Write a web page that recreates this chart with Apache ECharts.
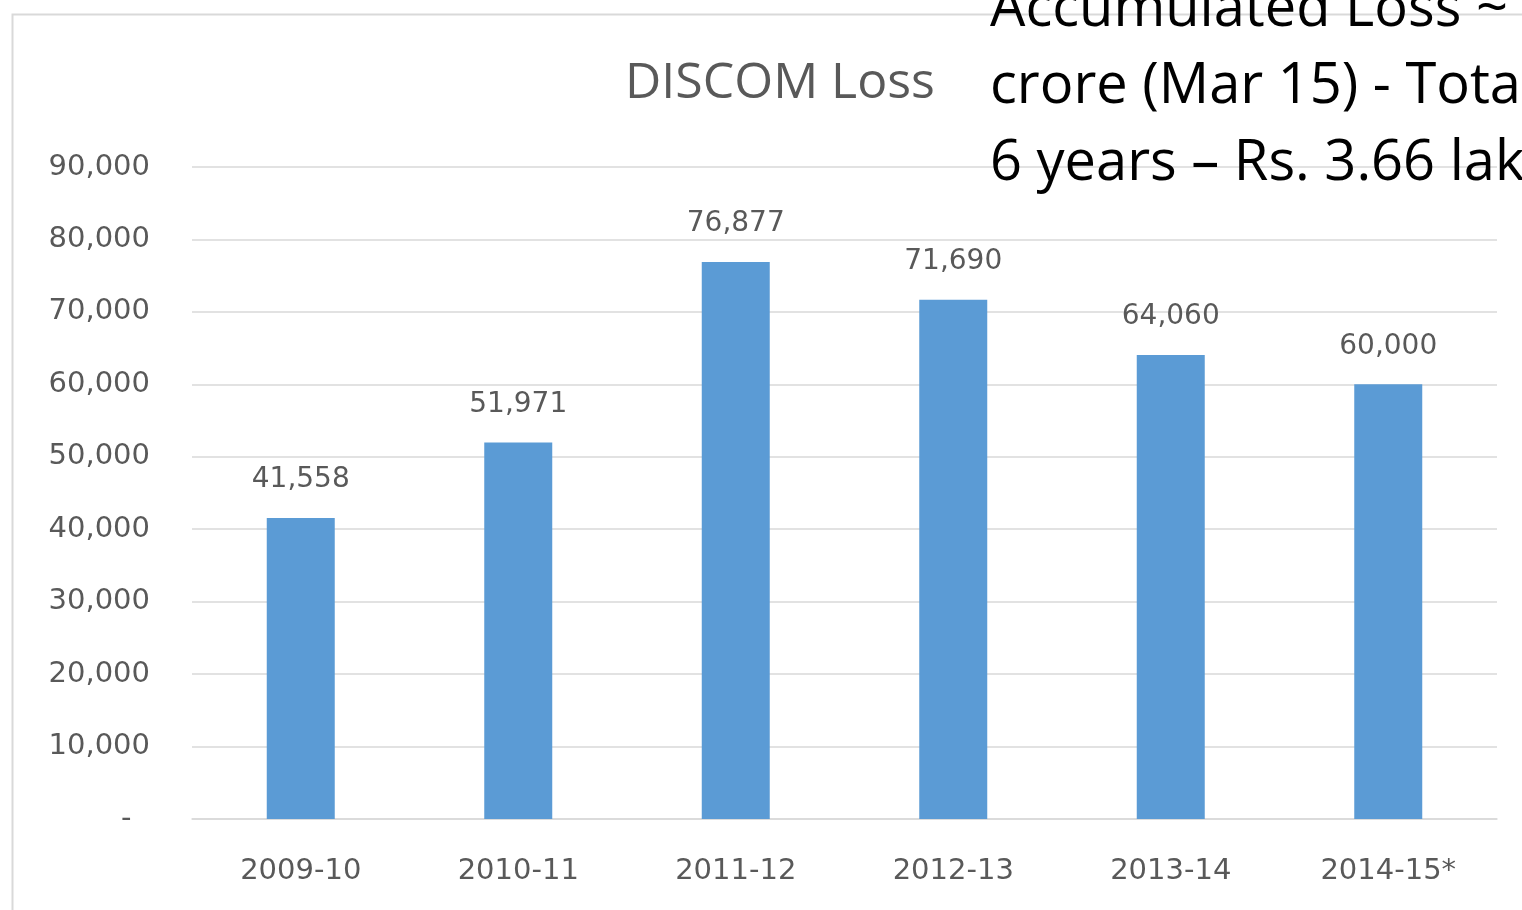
<!DOCTYPE html>
<html>
<head>
<meta charset="utf-8">
<script src="https://cdn.jsdelivr.net/npm/echarts@6/dist/echarts.min.js"></script>
<style>
  html, body { margin: 0; padding: 0; background: #fff; }
  #chart { width: 1522px; height: 910px; }
</style>
</head>
<body>
<div id="chart"></div>
<script>
// data
const years = ['2009-10', '2010-11', '2011-12', '2012-13', '2013-14', '2014-15*'];
const losses = [41558, 51971, 76877, 71690, 64060, 60000];
const noteLines = [
    'Accumulated Loss ~ Rs. 3.8 lakh',
    'crore (Mar 15) - Total loss in',
    '6 years \u2013 Rs. 3.66 lakh crore'
];

// excel style: zero shown as a dash
const fmt = (v) => v === 0 ? '-  ' : v.toLocaleString('en-US');

const mycharts = echarts.init(document.getElementById('chart'));
mycharts.setOption({
    animation: false,
    textStyle: { fontFamily: '"DejaVu Sans", sans-serif' },
    title: {
        text: 'DISCOM Loss',
        left: 775,
        top: 54,
        textAlign: 'center',
        textStyle: { fontSize: 50, fontWeight: 'normal', color: '#595959', fontFamily: '"Open Sans", sans-serif' }
    },
    grid: { left: 192, right: 25, top: 167, bottom: 91 },
    xAxis: {
        type: 'category',
        data: years,
        axisLine: { lineStyle: { color: '#d9d9d9', width: 1.5 } },
        axisTick: { show: false },
        axisLabel: { fontSize: 29, color: '#595959', margin: 38 }
    },
    yAxis: {
        type: 'value',
        min: 0,
        max: 90000,
        interval: 10000,
        axisLine: { show: false },
        axisTick: { show: false },
        splitLine: { lineStyle: { color: '#d9d9d9', width: 1.5 } },
        axisLabel: { fontSize: 29, color: '#595959', margin: 42, formatter: fmt }
    },
    series: [
        {
            type: 'bar',
            data: losses,
            barWidth: 68,
            itemStyle: { color: '#5b9bd5' },
            label: {
                show: true,
                position: 'top',
                distance: 24,
                fontSize: 28,
                color: '#595959',
                formatter: (p) => fmt(p.value)
            }
        }
    ],
    graphic: [
        // chart border
        {
            type: 'rect',
            left: 10, top: 12,
            shape: { width: 1600, height: 1000 },
            style: { fill: 'none', stroke: '#d9d9d9', lineWidth: 2 },
            z: -1
        },
        // overlaid slide note
        ...noteLines.map((t, i) => ({
            type: 'text',
            x: 990,
            y: 10 + i * 77,
            style: {
                text: t,
                fill: '#000',
                fontSize: 56,
                fontFamily: '"Open Sans", sans-serif',
                verticalAlign: 'middle'
            },
            z: 10
        }))
    ]
});
</script>
</body>
</html>
